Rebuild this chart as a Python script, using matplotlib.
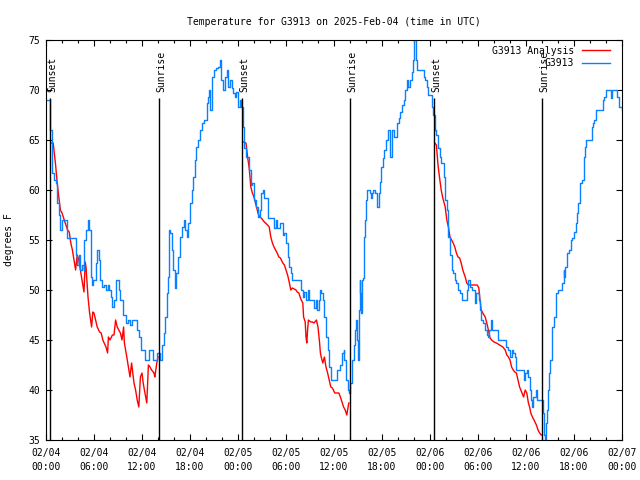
import datetime as dt
import numpy as np
import matplotlib
matplotlib.use("Agg")
import matplotlib.pyplot as plt
import matplotlib.dates as mdates
import matplotlib.transforms as mtrans

plt.rcParams['font.family'] = ['DejaVu Sans Mono']

START = dt.datetime(2025, 2, 4, 0, 0)
TITLE = "Temperature for G3913 on 2025-Feb-04 (time in UTC)"
YLABEL = "degrees F"
LEGEND_ANALYSIS = "G3913 Analysis"
LEGEND_OBS = "G3913"

# Observations (hours since 2025-02-04 00:00 UTC, degrees F)
obs_hours = [0.0, 0.3, 0.5, 0.7, 0.8, 1.0, 1.2, 1.4, 1.6, 1.8, 2.0, 2.4, 2.6, 3.0, 3.5, 3.7, 3.9, 4.1, 4.3, 4.5,
             4.75, 4.8, 5.0, 5.2, 5.4, 5.6, 5.8, 5.9, 6.2, 6.4, 6.6, 6.75, 7.0, 7.3, 7.5, 7.7, 7.9, 8.1, 8.25, 8.5,
             8.75, 9.0, 9.1, 9.3, 9.6, 10.0, 10.2, 10.5, 10.8, 11.2, 11.4, 11.6, 11.9, 12.2, 12.4, 12.7, 12.9, 13.2,
             13.4, 13.7, 13.9, 14.25, 14.5, 14.7, 14.9, 15.1, 15.3, 15.4, 15.5, 15.7, 15.9, 16.1, 16.3, 16.5, 16.75,
             16.95, 17.2, 17.4, 17.6, 17.8, 18.0, 18.2, 18.4, 18.6, 18.8, 19.0, 19.25, 19.5, 19.7, 20.0, 20.1, 20.2,
             20.4, 20.5, 20.7, 20.8, 21.0, 21.3, 21.5, 21.75, 21.9, 22.1, 22.4, 22.6, 22.8, 23.0, 23.2, 23.4, 23.6,
             23.8, 24.0, 24.2, 24.4, 24.6, 24.7, 24.8, 25.0, 25.2, 25.4, 25.6, 25.8, 26.0, 26.25, 26.5, 26.7, 26.9,
             27.1, 27.3, 27.7, 27.8, 28.2, 28.5, 28.7, 28.9, 29.1, 29.3, 29.6, 29.8, 30.0, 30.2, 30.4, 30.6, 30.8,
             31.6, 31.9, 32.1, 32.3, 32.5, 32.7, 32.9, 33.3, 33.5, 33.7, 33.9, 34.1, 34.3, 34.4, 34.6, 34.8, 35.0,
             35.2, 35.4, 35.6, 36.1, 36.4, 36.7, 37.0, 37.2, 37.3, 37.5, 37.7, 37.9, 38.0, 38.2, 38.3, 38.5, 38.6,
             38.75, 38.9, 39.0, 39.1, 39.2, 39.3, 39.4, 39.5, 39.6, 39.7, 39.8, 39.9, 40.0, 40.1, 40.3, 40.5, 40.6,
             40.8, 40.9, 41.1, 41.4, 41.6, 41.8, 41.9, 42.1, 42.3, 42.5, 42.8, 43.0, 43.2, 43.3, 43.5, 43.9, 44.1,
             44.3, 44.5, 44.7, 44.9, 45.1, 45.3, 45.5, 45.7, 45.9, 46.0, 46.2, 46.3, 46.4, 47.0, 47.2, 47.4, 47.6,
             47.8, 48.0, 48.25, 48.4, 48.6, 48.8, 49.0, 49.2, 49.4, 49.7, 49.9, 50.1, 50.3, 50.5, 50.7, 50.9, 51.1,
             51.3, 51.5, 51.7, 52.0, 52.4, 52.6, 52.8, 53.0, 53.2, 53.4, 53.6, 53.8, 54.1, 54.25, 54.4, 54.6, 54.9,
             55.1, 55.3, 55.4, 55.6, 55.7, 56.3, 56.5, 57.3, 57.5, 57.8, 58.0, 58.2, 58.4, 58.6, 58.8, 59.4, 59.7,
             59.9, 60.1, 60.3, 60.45, 60.6, 60.8, 60.9, 61.2, 61.4, 62.0, 62.1, 62.3, 62.4, 62.5, 62.6, 62.8, 62.9,
             63.0, 63.2, 63.3, 63.5, 63.7, 63.8, 64.0, 64.4, 64.5, 64.7, 64.8, 64.9, 65.1, 65.4, 65.6, 65.8, 66.0,
             66.25, 66.4, 66.5, 66.7, 66.8, 67.0, 67.2, 67.3, 67.4, 67.5, 68.0, 68.2, 68.4, 68.5, 68.8, 69.3, 69.6,
             69.8, 70.0, 70.4, 70.6, 70.8, 71.2, 71.4, 71.6, 72.0]
obs_temps = [69, 69, 66, 64, 61.7, 61, 60.7, 58.7, 57.5, 56, 57, 57, 55.2, 55.2, 55.2, 53.5, 52.5, 53.5, 52, 52.5,
             52, 55, 56, 57, 56, 51.3, 50.5, 51, 52.7, 54, 53, 51, 50.3, 50.5, 50, 50.5, 50, 49.3, 48.3, 49,
             51, 51, 50, 49, 47.5, 46.7, 47, 46.5, 47, 47, 46, 45.3, 44, 44, 43, 43, 44, 44,
             43, 43, 43.7, 43, 44.5, 45.7, 47.3, 49.7, 51.3, 56, 55.7, 54, 52, 50.2, 51.7, 53.3, 55.3,
             56.3, 57, 56, 55.3, 56.7, 58.7, 60, 61.3, 63, 64.3, 65, 66, 66.7, 67, 67, 68.7, 69.3,
             70, 68, 69.7, 71.3, 72, 72.2, 72.3, 73, 71, 70, 71.3, 72, 70.3, 71, 70.2, 69.7, 69.3,
             69.8, 68.3, 69, 68.3, 66.3, 65, 64.2, 63.3, 63.3, 62, 60.5, 60.7, 59, 58.3, 57.3, 58, 59.7,
             60, 59.2, 59, 57.2, 57.2, 56.2, 57, 56.2, 56.2, 56.7, 55.5, 55.7, 54.7, 53.3, 52.3, 51.7, 51,
             51, 50, 49.3, 49.8, 49, 50, 49, 49, 48.2, 49, 48, 49, 50, 49.7, 49, 47.3, 45.3,
             44, 42.3, 41, 41, 42, 42.5, 43.7, 44, 43, 41, 40, 39.7, 40.7, 41.7, 43, 44.5, 46,
             47, 45, 43, 48, 51, 49.7, 47.7, 51, 51.2, 53.7, 55.3, 57, 59, 60, 60, 59.7, 59.2,
             59.7, 60, 59.7, 58.3, 59.7, 60.8, 62.3, 63.2, 64, 65, 66, 63.3, 65.7, 66, 65.3, 66.7, 67.2,
             67.8, 68.5, 69, 70, 71, 70.3, 71, 71.8, 73, 75, 75, 73, 72, 72, 71.3, 71, 70.3,
             69.5, 69.5, 68.3, 67.5, 66, 65.5, 64.2, 63.3, 62.7, 61.3, 59, 58, 55.3, 53.5, 52, 51.7, 51,
             50.7, 50, 49.7, 49, 49, 50, 51, 50.3, 50, 50, 48.7, 49.7, 49, 48, 47, 46.7, 46,
             45.5, 45.3, 46, 47, 46, 46, 45, 45, 44.3, 44, 43.3, 44, 43.7, 43.3, 42, 42, 41,
             41.7, 42, 41.3, 40, 39, 38.3, 39.3, 40, 39, 39, 37.7, 35.5, 35, 36.7, 38, 40, 41.7,
             43, 45, 46.3, 47.3, 48.7, 49.7, 50, 50, 50.7, 52, 51.3, 52.3, 53.7, 54, 55, 55.2, 55.8,
             56.7, 57.7, 58.7, 60, 60.7, 61, 61.7, 63.3, 64.3, 65, 65, 66.3, 66.7, 67, 68, 68, 69,
             69.3, 70, 70, 69.2, 70, 70, 69.3, 68.3, 68]

# Analysis, night 1
ana1_hours = [0.67, 0.9, 1.2, 1.4, 1.6, 1.8, 2.0, 2.2, 2.4, 2.7, 2.9, 3.1, 3.3, 3.5, 3.7, 3.9, 4.1, 4.3, 4.5,
              4.75, 4.9, 5.0, 5.25, 5.45, 5.7, 5.85, 6.0, 6.2, 6.4, 6.7, 6.9, 7.1, 7.5, 7.7, 7.8, 8.0, 8.3, 8.5,
              8.7, 8.9, 9.1, 9.3, 9.5, 9.7, 9.8, 10.1, 10.3, 10.5, 10.7, 10.85, 11.0, 11.2, 11.4, 11.6, 11.8,
              12.0, 12.15, 12.3, 12.6, 12.8, 13.0, 13.2, 13.5, 13.6, 13.85, 14.0]
ana1_temps = [64.7, 64.7, 62.5, 60.7, 59.3, 58, 57.7, 57.2, 56.7, 56, 55.8, 54.7, 54, 53, 52, 53.5, 53, 52, 51,
              49.8, 52.8, 52.3, 49.3, 47.7, 46.3, 47.8, 47.7, 47, 46.3, 45.8, 45.7, 45, 44.3, 43.7, 45.3, 45, 45.5, 45.5,
              47, 46.3, 46, 45.7, 45, 46.3, 44.7, 43.3, 42.3, 41.3, 42.7, 41.7, 40.7, 40, 39, 38.3, 41.3,
              41.7, 40.7, 40, 38.7, 42.5, 42.3, 42, 41.7, 41.3, 42.7, 43.3]
# Analysis, night 2
ana2_hours = [24.7, 25.0, 25.2, 25.4, 25.6, 25.8, 26.0, 26.25, 26.5, 26.7, 26.9, 27.3, 27.7, 27.9, 28.1, 28.3,
              28.5, 28.7, 28.9, 29.1, 29.3, 29.6, 29.8, 30.0, 30.2, 30.4, 30.6, 30.8, 31.25, 31.4, 31.6, 31.9,
              32.1, 32.2, 32.4, 32.5, 32.6, 32.7, 32.8, 33.1, 33.3, 33.5, 33.8, 34.0, 34.2, 34.3, 34.4, 34.6,
              34.8, 35.0, 35.2, 35.4, 35.6, 35.8, 36.1, 36.6, 36.8, 37.0, 37.2, 37.4, 37.6, 37.7, 37.85]
ana2_temps = [64.8, 64.7, 63.3, 62.2, 60.3, 59.7, 59.3, 58.5, 57.7, 57.3, 57.2, 56.8, 56.5, 56.3, 55.3, 54.7,
              54.3, 54, 53.7, 53.3, 53.2, 52.7, 52.5, 52, 51.5, 50.8, 50, 50.2, 50, 49.8, 49.7, 49,
              48.7, 47.3, 46.8, 45.3, 44.7, 46, 47, 46.8, 46.8, 46.7, 47, 46.3, 44.7, 43.7, 43.3, 42.7,
              43.3, 42.3, 41.7, 41, 40.3, 40.2, 39.7, 39.7, 39.3, 38.8, 38.3, 38, 37.5, 38, 38.7]
# Analysis, night 3
ana3_hours = [48.6, 48.8, 49.0, 49.2, 49.4, 49.6, 49.9, 50.1, 50.3, 50.5, 50.7, 50.9, 51.1, 51.3, 51.5, 51.7,
              51.9, 52.1, 52.4, 52.6, 52.8, 53.9, 54.1, 54.25, 54.4, 54.6, 54.9, 55.1, 55.3, 55.5, 55.7, 56.0,
              56.3, 56.7, 57.1, 57.4, 57.6, 57.8, 58.0, 58.2, 58.4, 58.6, 58.8, 59.0, 59.2, 59.5, 59.7, 59.9,
              60.1, 60.3, 60.45, 60.6, 60.8, 61.0, 61.3, 61.5, 61.7, 61.9, 62.0]
ana3_temps = [64.7, 64.5, 62.5, 61.2, 60, 59.2, 58.3, 57, 56.3, 55.3, 55, 54.7, 54.3, 53.7, 53.3, 53.2,
              52.7, 52, 51.3, 50.7, 50.5, 50.5, 50.2, 49, 48, 47.7, 47.3, 46.7, 46, 45.2, 45, 44.8,
              44.7, 44.5, 44.3, 44, 43.5, 43.3, 43, 42.3, 42, 41.8, 41.7, 41, 40.3, 39.7, 39.3, 40,
              39.7, 38.7, 38.3, 37.7, 37.3, 37, 36.5, 36, 35.7, 35.5, 35.5]

# Sun events
event_hours = [0.5, 14.15, 24.55, 38.05, 48.5, 62.0]
event_labels = ["Sunset", "Sunrise", "Sunset", "Sunrise", "Sunset", "Sunrise"]
event_line_top = 69.2
event_text_y = 69.8

y_min, y_max = 35, 75
y_ticks = [35, 40, 45, 50, 55, 60, 65, 70, 75]


def to_dt(hours):
    return [START + dt.timedelta(hours=h) for h in hours]


RED = "#ff0000"
BLUE = "#0a80ff"

fig = plt.figure(figsize=(6.4, 4.8), dpi=100)
ax = fig.add_axes([46 / 640, 40 / 480, 576 / 640, 400 / 480])

ax.plot(to_dt(ana1_hours), ana1_temps, color=RED, lw=1.0, label=LEGEND_ANALYSIS)
ax.plot(to_dt(ana2_hours), ana2_temps, color=RED, lw=1.0)
ax.plot(to_dt(ana3_hours), ana3_temps, color=RED, lw=1.0)
ax.plot(to_dt(obs_hours), obs_temps, color=BLUE, lw=1.0, drawstyle='steps-post', label=LEGEND_OBS)

off = mtrans.offset_copy(ax.transData, fig=fig, x=1.5, y=0, units='points')
for h, lab in zip(event_hours, event_labels):
    t = START + dt.timedelta(hours=h)
    ax.vlines(t, y_min, event_line_top, color='black', lw=1.0, zorder=3)
    ax.text(t, event_text_y, lab, rotation=90, ha='center', va='bottom',
            fontsize=7, transform=off, zorder=3)

ax.set_xlim(START, START + dt.timedelta(hours=72))
ax.set_ylim(y_min, y_max)
ax.set_yticks(y_ticks)
ax.xaxis.set_major_locator(mdates.HourLocator(byhour=[0, 6, 12, 18]))
ax.xaxis.set_minor_locator(mdates.HourLocator(interval=2))
ax.xaxis.set_major_formatter(mdates.DateFormatter('%m/%d\n%H:%M'))

ax.tick_params(which='both', direction='in', top=True, right=True, width=0.8, labelsize=7)
ax.tick_params(which='major', length=4.5)
ax.tick_params(which='minor', length=2.5)
ax.tick_params(axis='x', pad=6)
ax.tick_params(axis='y', pad=4)
for lbl in ax.get_xticklabels():
    lbl.set_linespacing(1.4)
for sp in ax.spines.values():
    sp.set_linewidth(0.8)

ax.set_ylabel(YLABEL, fontsize=7)
ax.yaxis.set_label_coords(-0.055, 0.5)
ax.set_title(TITLE, fontsize=7, pad=11)

leg = ax.legend(loc='upper right', bbox_to_anchor=(1 - 8 / 576, 1 - 2 / 400),
                frameon=False, markerfirst=False, fontsize=7,
                handlelength=2.9, handletextpad=0.8, labelspacing=0.25,
                borderaxespad=0.2, borderpad=0.2)
leg.set_zorder(5)

fig.savefig("out.png", dpi=100)
